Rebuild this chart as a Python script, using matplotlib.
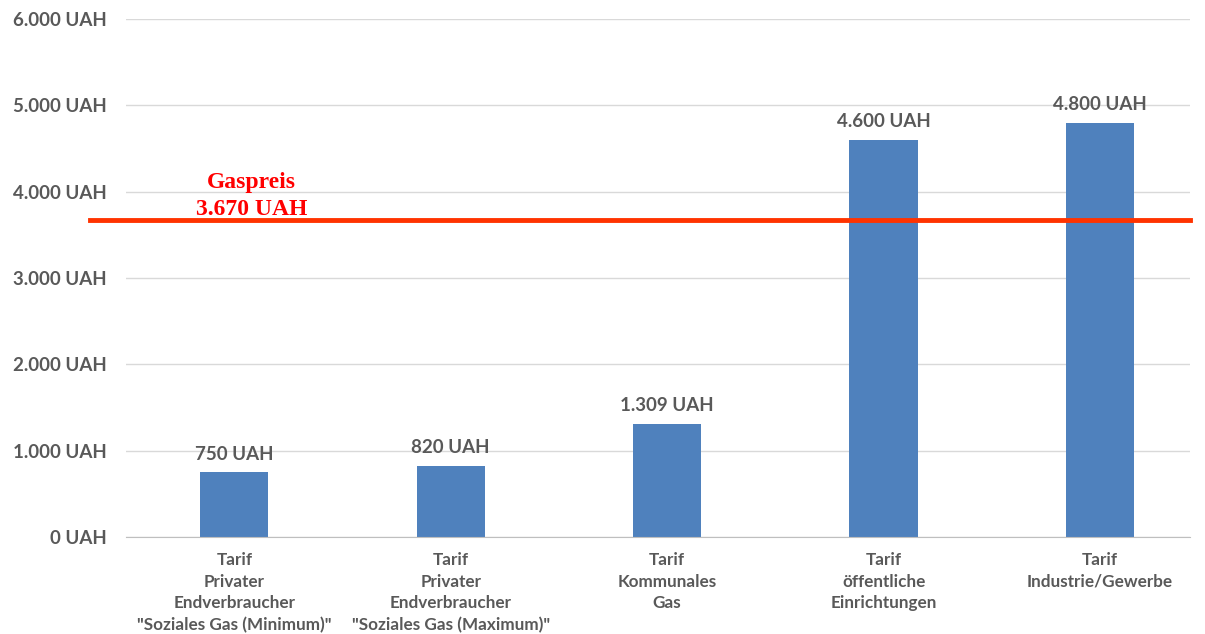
import numpy as np
import matplotlib
matplotlib.use("Agg")
import matplotlib.pyplot as plt

# Tarife in UAH
categories = [
    'Tarif\nPrivater\nEndverbraucher\n"Soziales Gas (Minimum)"',
    'Tarif\nPrivater\nEndverbraucher\n"Soziales Gas (Maximum)"',
    'Tarif\nKommunales\nGas',
    'Tarif\nöffentliche\nEinrichtungen',
    'Tarif\nIndustrie/Gewerbe',
]
values = [750, 820, 1309, 4600, 4800]
gas_price = 3670
yticks = [0, 1000, 2000, 3000, 4000, 5000, 6000]


def uah(v):
    return f"{v:,.0f}".replace(",", ".") + " UAH"


grey = "#595959"
fig = plt.figure(figsize=(12.05, 6.34), dpi=100)
ax = fig.add_axes([0.1046, 0.153, 0.883, 0.817])

x = np.arange(len(values))
bars = ax.bar(x, values, width=0.315, color="#4F81BD", zorder=2)

for b, v in zip(bars, values):
    ax.annotate(uah(v), (b.get_x() + b.get_width() / 2, v),
                xytext=(0, 7), textcoords="offset points",
                ha="center", va="bottom", fontsize=13.5,
                fontweight="bold", color=grey, family="Lato")

ax.set_xlim(-0.5, len(values) - 0.584)
ax.set_ylim(0, 6000)
ax.set_yticks(yticks)
ax.set_yticklabels([uah(t) for t in yticks])
ax.set_xticks(x)
ax.set_xticklabels(categories, linespacing=1.42)

for lab in ax.get_yticklabels():
    lab.set_fontsize(13.5)
    lab.set_fontweight("bold")
    lab.set_color(grey)
    lab.set_family("Lato")
for lab in ax.get_xticklabels():
    lab.set_fontsize(12.3)
    lab.set_fontweight("bold")
    lab.set_color(grey)
    lab.set_family("Lato")

ax.tick_params(axis="y", length=0, pad=14)
ax.tick_params(axis="x", length=0, pad=11)
ax.grid(axis="y", color="#D9D9D9", linewidth=1, zorder=0)
for s in ["top", "right", "left"]:
    ax.spines[s].set_visible(False)
ax.spines["bottom"].set_color("#BFBFBF")
ax.spines["bottom"].set_zorder(3)

# Gaspreis-Linie
trans = ax.get_yaxis_transform()
ax.plot([-0.034, 1.0], [gas_price, gas_price], transform=trans,
        color="#FF3300", linewidth=3.5, clip_on=False, zorder=4)
ax.text(0.118, gas_price + 5, "Gaspreis\n" + uah(gas_price),
        transform=trans, ha="center", va="bottom", fontsize=17,
        fontweight="bold", color="#FF0000", family="Liberation Serif",
        linespacing=1.38)

fig.savefig("out.png", dpi=100)
